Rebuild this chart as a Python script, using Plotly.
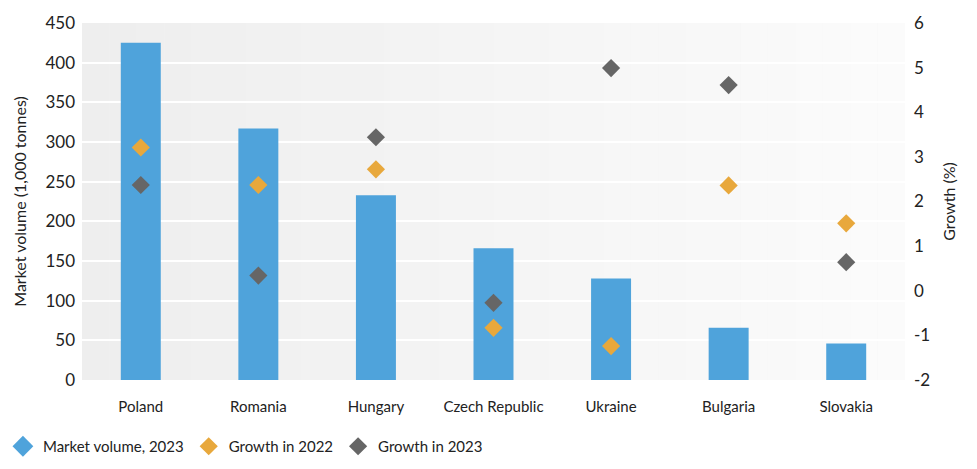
import plotly.graph_objects as go

countries = ["Poland", "Romania", "Hungary", "Czech Republic", "Ukraine", "Bulgaria", "Slovakia"]
market_volume_2023 = [425, 317, 233, 166, 128, 66, 46]
growth_2022 = [3.21, 2.37, 2.72, -0.83, -1.24, 2.36, 1.51]
growth_2023 = [2.37, 0.34, 3.44, -0.27, 4.99, 4.61, 0.64]
growth_ticks = [-2, -1, 0, 1, 2, 3, 4, 5, 6]
growth_ticktext = ["-2", "-1", "0", "1", "2", "3", "4", "5", "6"]

BLUE = "#4fa3db"
ORANGE = "#e8a83c"
GRAY = "#666666"
FONT = "Lato"

fig = go.Figure()
fig.add_trace(go.Bar(x=countries, y=market_volume_2023, name="Market volume, 2023",
                     marker=dict(color=BLUE, line=dict(width=0)), width=0.34,
                     showlegend=False, yaxis="y"))
fig.add_trace(go.Scatter(x=[None], y=[None], mode="markers", name="Market volume, 2023",
                         marker=dict(symbol="diamond", color=BLUE, size=16)))
fig.add_trace(go.Scatter(x=countries, y=growth_2022, mode="markers", name="Growth in 2022",
                         marker=dict(symbol="diamond", color=ORANGE, size=14), yaxis="y2"))
fig.add_trace(go.Scatter(x=countries, y=growth_2023, mode="markers", name="Growth in 2023",
                         marker=dict(symbol="diamond", color=GRAY, size=14), yaxis="y2"))

# background gradient (light gray left -> near white right)
shapes = []
n = 30
for i in range(n):
    t = i / (n - 1)
    c = int(round(0xee + (0xfb - 0xee) * t))
    shapes.append(dict(type="rect", xref="paper", yref="paper", x0=i / n, x1=(i + 1) / n,
                       y0=0, y1=1, fillcolor=f"rgb({c},{c},{c})", line=dict(width=0),
                       layer="below"))

fig.update_layout(
    width=977, height=469,
    margin=dict(l=82, r=72, t=23, b=89, autoexpand=False),
    paper_bgcolor="white", plot_bgcolor="#f3f3f3",
    font=dict(family=FONT, size=15, color="#222222"),
    shapes=shapes,
    xaxis=dict(showgrid=False, zeroline=False, showline=False, ticks="",
               tickfont=dict(size=15), range=[-0.5, 6.5], ticklabelstandoff=16),
    yaxis=dict(range=[0, 450], dtick=50, showgrid=True, gridcolor="white", gridwidth=1.5,
               zeroline=False, showline=False, ticks="",
               tickfont=dict(size=17), ticklabelstandoff=6,
               title=dict(text="Market volume (1,000 tonnes)", font=dict(size=16), standoff=14)),
    yaxis2=dict(range=[-2, 6], tickvals=growth_ticks, ticktext=growth_ticktext,
                overlaying="y", side="right", showgrid=False,
                zeroline=False, showline=False, ticks="",
                tickfont=dict(size=17), ticklabelstandoff=8,
                title=dict(text="Growth (%)", font=dict(size=16), standoff=14)),
    legend=dict(orientation="h", xref="container", yref="container",
                x=0.003, xanchor="left", y=0.048, yanchor="middle",
                font=dict(size=15), tracegroupgap=0),
)

fig.write_html("out.html")
